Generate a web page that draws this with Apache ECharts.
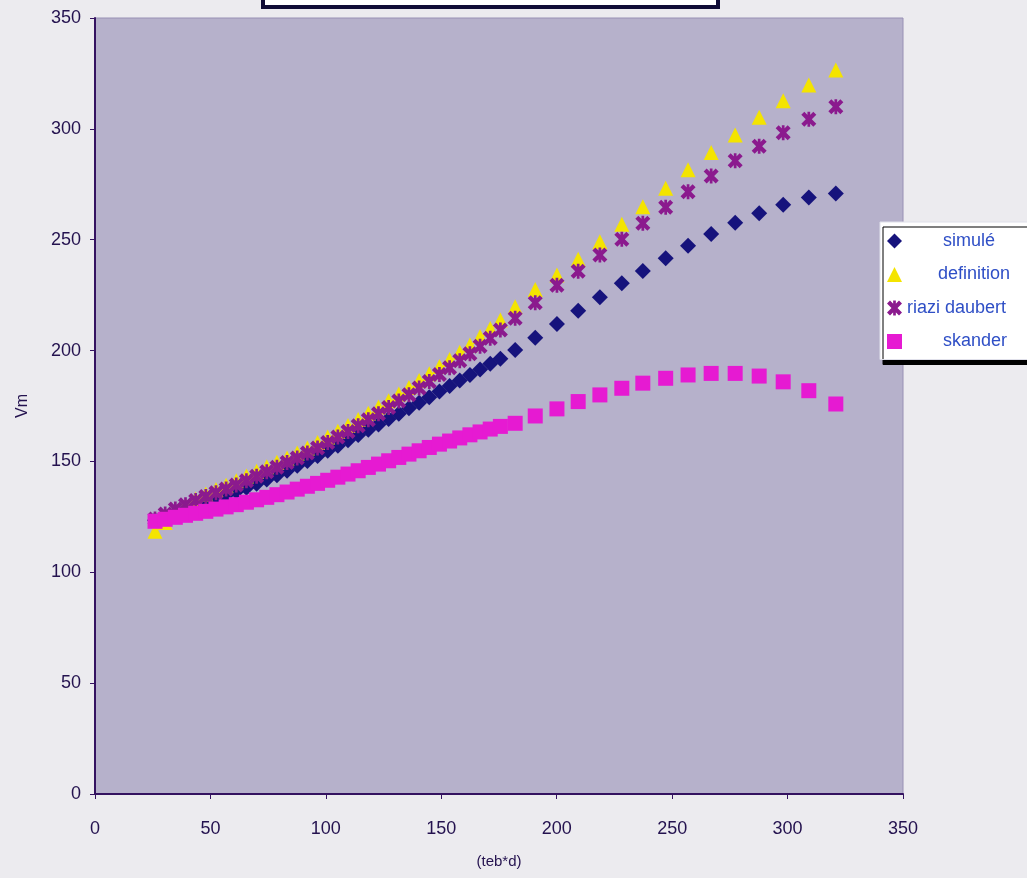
<!DOCTYPE html>
<html><head><meta charset="utf-8">
<script src="https://cdn.jsdelivr.net/npm/echarts@6/dist/echarts.min.js"></script>
<style>html,body{margin:0;padding:0;background:#ecebef}#c{width:1027px;height:878px}</style>
</head><body><div id="c"></div>
<script>
// x values (teb*d)
const xValues = [26.0,30.4,34.8,39.2,43.6,48.0,52.4,56.8,61.2,65.6,70.0,74.4,78.8,83.2,87.6,92.0,96.4,100.8,105.2,109.6,114.0,118.4,122.8,127.2,131.6,136.0,140.4,144.8,149.2,153.6,158.0,162.4,166.8,171.2,175.6,
  182.0,190.7,200.1,209.3,218.7,228.2,237.3,247.2,256.9,266.9,277.3,287.7,298.1,309.2,320.9];
// Vm series
const simule = [123.5,125.0,126.6,128.2,129.8,131.4,133.0,134.7,136.4,138.1,139.9,141.8,143.8,145.8,148.0,150.2,152.5,154.8,157.1,159.5,161.9,164.3,166.7,169.1,171.5,174.0,176.5,179.0,181.5,184.0,186.5,189.0,191.5,194.0,196.3,
  200.3,205.8,212.0,218.0,224.0,230.4,235.9,241.6,247.3,252.6,257.7,261.9,265.8,269.0,270.9];
const definition = [118.5,122.5,126.5,130.0,133.0,135.3,137.3,139.2,141.3,143.4,145.6,147.6,149.6,151.6,153.8,156.1,158.5,161.0,163.6,166.2,168.9,171.7,174.5,177.4,180.4,183.4,186.5,189.6,192.8,196.0,199.2,202.5,206.3,210.0,213.8,
  219.8,227.6,234.1,241.2,249.1,257.0,264.9,273.2,281.5,289.3,297.2,305.2,312.7,319.8,326.6];
const riaziDaubert = [124.0,126.3,128.5,130.5,132.4,134.2,135.9,137.6,139.4,141.3,143.3,145.3,147.4,149.5,151.6,153.8,156.1,158.5,161.0,163.5,166.1,168.8,171.5,174.3,177.2,180.1,183.1,186.1,189.2,192.3,195.4,198.6,202.0,205.6,209.3,
  214.6,221.6,229.5,235.8,243.1,250.2,257.4,264.6,271.6,278.7,285.6,292.2,298.2,304.3,310.0];
const skander = [123.0,123.9,124.8,125.7,126.6,127.5,128.5,129.5,130.5,131.6,132.7,133.8,135.0,136.2,137.5,138.8,140.1,141.5,142.9,144.3,145.8,147.3,148.8,150.3,151.8,153.3,154.8,156.3,157.8,159.2,160.6,162.0,163.3,164.6,165.8,
  167.2,170.5,173.7,177.0,180.0,183.0,185.3,187.5,189.0,189.7,189.7,188.5,185.9,181.9,175.9];
const seriesNames = ['simulé','definition','riazi daubert','skander'];
const axisMin = 0, axisMax = 350, axisStep = 50;

const chart = echarts.init(document.getElementById('c'), null, {renderer:'canvas'});
function pts(ys){ return xValues.map((x,i)=>[x, ys[i]]); }
const starPath = 'path://M0,2L2,0L5,3L8,0L10,2L7,5L10,8L8,10L5,7L2,10L0,8L3,5Z M4.1,0L5.9,0L5.9,10L4.1,10Z';
const styles = [
  {symbol:'diamond', color:'#16137c', size:16},
  {symbol:'triangle', color:'#f4e400', size:15},
  {symbol:starPath, color:'#8b1a8e', size:15},
  {symbol:'rect', color:'#e61ad2', size:15}
];
const datasets = [simule, definition, riaziDaubert, skander];
const legendPad = {'simulé':36,'definition':31,'riazi daubert':0,'skander':36};
const axisColor = '#341260';
const labelColor = '#24124f';

chart.setOption({
  backgroundColor:'#ecebef',
  animation:false,
  grid:{left:95,right:124,top:18,bottom:84,show:true,backgroundColor:'#b6b1cb',borderColor:'#9890b4',borderWidth:1},
  xAxis:{type:'value',min:axisMin,max:axisMax,interval:axisStep,
    name:'(teb*d)',nameLocation:'middle',nameGap:60,
    nameTextStyle:{fontFamily:'Liberation Sans',fontSize:15,color:labelColor},
    axisLine:{show:true,onZero:false,lineStyle:{color:axisColor,width:2}},
    axisTick:{show:true,inside:false,length:5,lineStyle:{color:axisColor}},
    axisLabel:{margin:26,fontFamily:'Liberation Sans',fontSize:18,color:labelColor},
    splitLine:{show:false}},
  yAxis:{type:'value',min:axisMin,max:axisMax,interval:axisStep,
    name:'Vm',nameLocation:'middle',nameGap:64,nameRotate:90,
    nameTextStyle:{fontFamily:'Liberation Sans',fontSize:16,color:labelColor},
    axisLine:{show:true,onZero:false,lineStyle:{color:axisColor,width:2}},
    axisTick:{show:true,inside:false,length:5,lineStyle:{color:axisColor}},
    axisLabel:{margin:14,fontFamily:'Liberation Sans',fontSize:18,color:labelColor},
    splitLine:{show:false}},
  legend:{
    orient:'vertical',left:880,top:222,
    padding:[10,30,9,7],itemGap:15.5,itemWidth:15,itemHeight:15,
    backgroundColor:'#ffffff',borderColor:'#e0e0ea',borderWidth:1,
    shadowColor:'#000000',shadowBlur:0,shadowOffsetX:3,shadowOffsetY:5,
    data:seriesNames,
    formatter:name=>'{g'+legendPad[name]+'|}{t|'+name+'}',
    textStyle:{fontFamily:'Liberation Sans',fontSize:18,color:'#2f4fc6',lineHeight:18,
      rich:{g36:{width:36},g31:{width:31},g0:{width:0},t:{fontFamily:'Liberation Sans',fontSize:18,color:'#2f4fc6'}}}
  },
  graphic:[{type:'rect',shape:{x:263,y:-12,width:455,height:19},
    style:{fill:'#ffffff',stroke:'#100c36',lineWidth:4},z:10}],
  series: datasets.map((d,i)=>({
    type:'scatter',name:seriesNames[i],data:pts(d),
    symbol:styles[i].symbol,symbolSize:styles[i].size,
    itemStyle:{color:styles[i].color,opacity:1},
    emphasis:{disabled:true},z:2+i
  }))
});
</script></body></html>
